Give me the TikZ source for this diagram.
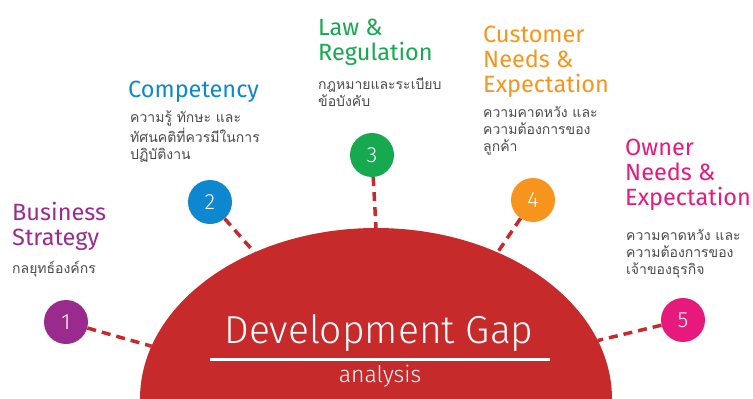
\documentclass[tikz,border=0pt]{standalone}
\usepackage{fontspec}
\setmainfont{Fira Sans}
\newfontfamily\lightfont{Fira Sans Light}
\newfontfamily\thaifont[Script=Thai]{Loma}
\usetikzlibrary{calc}
\definecolor{gapred}{HTML}{C62A2B}
\definecolor{bizpurple}{HTML}{9B2A8F}
\definecolor{compblue}{HTML}{0C87D0}
\definecolor{lawgreen}{HTML}{16A950}
\definecolor{custorange}{HTML}{F7941E}
\definecolor{ownerpink}{HTML}{E6197C}
\definecolor{descgray}{HTML}{4A4A4A}
\tikzset{
  numdot/.style={circle, minimum size=44pt, inner sep=0pt, text=white,
    font=\lightfont\fontsize{22}{22}\selectfont},
  title/.style={anchor=base west, align=left, inner sep=0pt,
    font=\fontsize{23.5}{25}\selectfont},
  desc/.style={anchor=base west, align=left, inner sep=0pt, text=descgray,
    font=\thaifont\fontsize{14}{17}\selectfont},
  gapline/.style={gapred, line width=3.5pt, dash pattern=on 9pt off 6pt},
}
\begin{document}
\begin{tikzpicture}[x=1pt,y=-1pt]
    \useasboundingbox (0,0) rectangle (753,399);
    % half ellipse
    \coordinate (gc) at (376,399);
    \fill[gapred] (gc) ++(-236,0) arc[start angle=180, end angle=360, x radius=236, y radius=171] -- cycle;
    \node[text=white, inner sep=0pt, anchor=base, font=\lightfont\fontsize{39}{39}\selectfont]
      (gap) at (379,343) {Development Gap};
    \draw[white, line width=3pt] (210,359) -- (550,359);
    \node[text=white, inner sep=0pt, anchor=base, font=\lightfont\fontsize{23}{23}\selectfont]
      (ana) at (380,382) {analysis};
    % points on the edge
    \path (gc) +(198:236 and 171) coordinate (e1)
      (gc) +(239:236 and 171) coordinate (e2)
      (gc) +(270:236 and 171) coordinate (e3)
      (gc) +(301:236 and 171) coordinate (e4)
      (gc) +(340:236 and 171) coordinate (e5);
    % numbered dots
    \node[numdot, fill=bizpurple] (n1) at (66,322) {1};
    \node[numdot, fill=compblue] (n2) at (210,202) {2};
    \node[numdot, fill=lawgreen] (n3) at (372,155) {3};
    \node[numdot, fill=custorange] (n4) at (533,200) {4};
    \node[numdot, fill=ownerpink] (n5) at (683,320) {5};
    \draw[gapline] (n1) -- (e1);
    \draw[gapline] (n2) -- (e2);
    \draw[gapline] (n3) -- (e3);
    \draw[gapline] (n4) -- (e4);
    \draw[gapline] (n5) -- (e5);
    % titles (base = last line)
    \node[title, text=bizpurple] (t1) at (12,245) {Business\\Strategy};
    \node[title, text=compblue] (t2) at (128,97) {Competency};
    \node[title, text=lawgreen] (t3) at (318,60) {Law \&\\Regulation};
    \node[title, text=custorange] (t4) at (483,92) {Customer\\Needs \&\\Expectation};
    \node[title, text=ownerpink] (t5) at (625,205) {Owner\\Needs \&\\Expectation};
    % thai text
    \node[desc] (d1) at (12,273) {กลยุทธ์องค์กร};
    \node[desc] (d2) at (130,159) {ความรู้ ทักษะ และ\\ทัศนคติที่ควรมีในการ\\ปฏิบัติงาน};
    \node[desc] (d3) at (318,106) {กฎหมายและระเบียบ\\ข้อบังคับ};
    \node[desc] (d4) at (483,151) {ความคาดหวัง และ\\ความต้องการของ\\ลูกค้า};
    \node[desc] (d5) at (626,274) {ความคาดหวัง และ\\ความต้องการของ\\เจ้าของธุรกิจ};
\end{tikzpicture}
\end{document}
